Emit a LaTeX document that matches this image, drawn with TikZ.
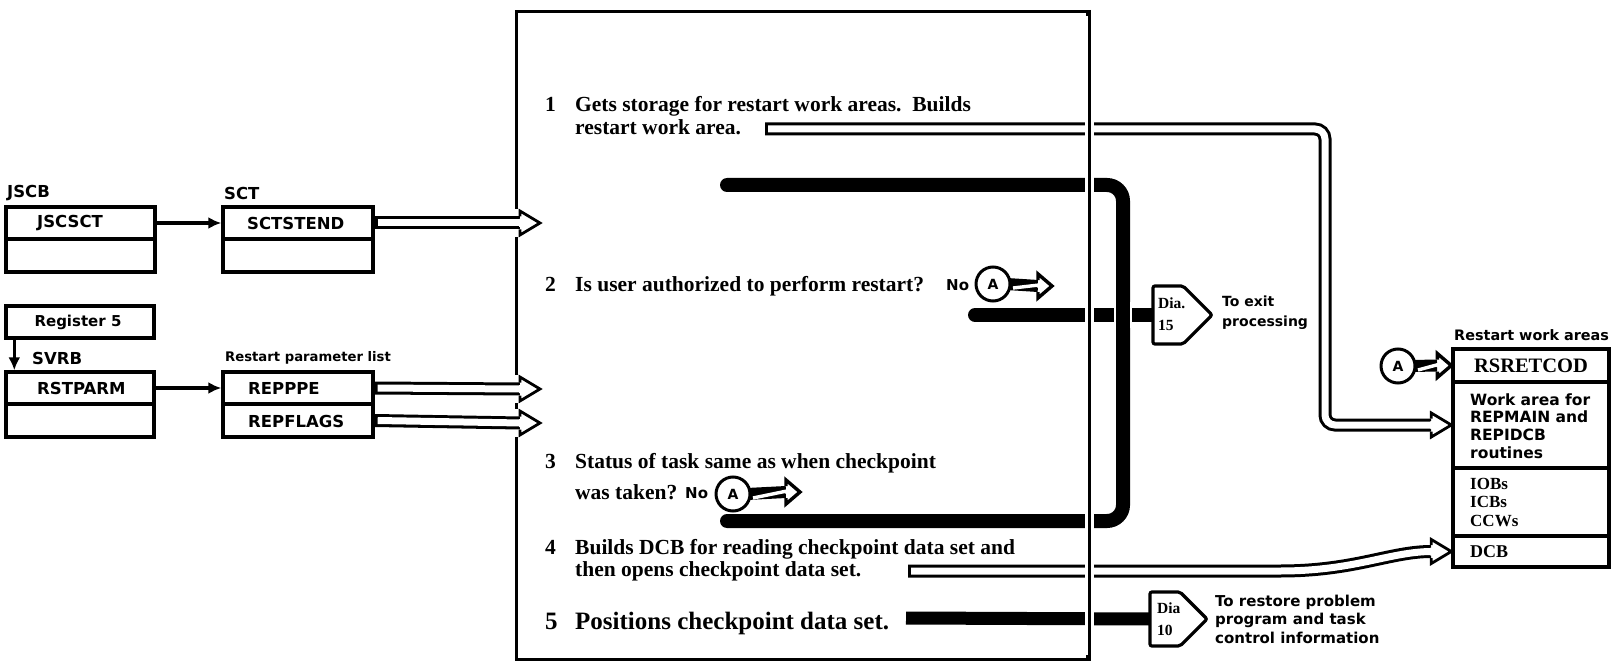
\documentclass[tikz,border=0pt]{standalone}
\usepackage{fontspec}
\setmainfont{Liberation Serif}
\newfontfamily\dvs{DejaVu Sans}
\usetikzlibrary{arrows.meta,calc}

\newcommand\fs[2]{\fontsize{#1}{#2}\selectfont}

\tikzset{
  frame/.style={draw, line width=3.4pt},
  cell/.style={draw, line width=3.4pt, inner sep=0pt, minimum width=149pt},
  lbl/.style={font=\dvs\bfseries\fs{16.5}{19}, inner sep=0pt},
  boxtxt/.style={font=\dvs\bfseries\fs{16.5}{19}, inner sep=0pt},
  steptxt/.style={font=\bfseries\fs{21.5}{23}, inner sep=0pt, anchor=base west},
  notxt/.style={font=\dvs\bfseries\fs{15}{15}, inner sep=0pt, anchor=base west},
  ptr/.style={line width=3.2pt, -{Latex[length=13pt,width=12pt]}},
  bar/.style={line width=14pt},
  acirc/.style={circle, draw, line width=3pt, fill=white, minimum size=34pt,
    inner sep=0pt, font=\dvs\bfseries\fs{14}{14}},
  dia/.style={draw, line width=3.2pt, fill=white, rounded corners=2pt},
  diatxt/.style={font=\bfseries\fs{15.5}{22}, inner sep=0pt, align=left, anchor=west},
  side/.style={font=\dvs\bfseries\fs{15}{18.5}, inner sep=0pt, align=left, anchor=west},
}

% head of a hollow (double-lined) arrow, tip at #1
\newcommand\hhead[1]{%
  \begin{scope}[shift={(#1)}]
    \fill[white] (-21,-4) -- (-20,-4) -- (-20,-12) -- (0,0) -- (-20,12) -- (-20,4) -- (-21,4) -- cycle;
    \draw[line width=2.8pt, line join=miter] (-20,-6.5) -- (-20,-12) -- (0,0) -- (-20,12) -- (-20,6.5);
  \end{scope}}

% straight hollow arrow from anchor #1 into the process box, tip at #2
\newcommand\inarrow[2]{%
  \fill[white] ($(#2)+(-28,-14)$) rectangle ($(#2)+(-18,14)$);
  \draw[line width=13pt] (#1) -- ($(#2)+(-20,0)$);
  \draw[line width=7pt, white] ($(#1)+(3,0)$) -- ($(#2)+(-19,0)$);
  \hhead{#2}}

% off-page connector circle "A" with its short slashed arrow
\newcommand\aconn[3]{%
  \draw[line width=12pt] ($(#2)+(14,0)$) -- ($(#3)+(-14,0)$);
  \draw[line width=3.4pt, white] ($(#2)+(20,4)$) -- ($(#3)+(-13,-1)$);
  \begin{scope}[shift={(#3)}]
    \fill[white] (-15,-1.5) -- (-14,-1.5) -- (-14,-12) -- (0,0) -- (-14,12) -- (-14,1.5) -- (-15,1.5) -- cycle;
    \draw[line width=3.4pt, line join=miter] (-14,-6) -- (-14,-12) -- (0,0) -- (-14,12) -- (-14,6);
  \end{scope}
  \node[acirc] (#1) at (#2) {A};}

\begin{document}
\begin{tikzpicture}[x=1pt, y=-1pt, line cap=butt]
\useasboundingbox (0,0) rectangle (1614,663);

% ---------------- input control blocks ----------------
\node[lbl, anchor=west] (jscbL) at (7,193) {JSCB};
\node[cell, minimum height=32pt] (jscsct) at (80.5,223) {};
\node[cell, minimum height=33pt] (jscb2) at (80.5,255.5) {};
\node[boxtxt, anchor=west] (t1) at (37,223) {JSCSCT};

\node[lbl, anchor=west] (sctL) at (224,193) {SCT};
\node[cell, minimum width=150pt, minimum height=32pt] (sctstend) at (298,223) {};
\node[cell, minimum width=150pt, minimum height=33pt] (sct2) at (298,255.5) {};
\node[boxtxt, anchor=west] (t2) at (247,223) {SCTSTEND};

\node[cell, minimum width=148pt, minimum height=32pt] (reg) at (80,322) {};
\node[boxtxt, font=\dvs\bfseries\fs{15}{17}] (t3) at (78,322) {Register 5};

\node[lbl, anchor=west] (svrbL) at (32,358) {SVRB};
\node[cell, minimum width=148pt, minimum height=32pt] (rstparm) at (80,388) {};
\node[cell, minimum width=148pt, minimum height=33pt] (svrb2) at (80,420.5) {};
\node[boxtxt, anchor=west] (t4) at (37,388) {RSTPARM};

\node[lbl, anchor=west, font=\dvs\bfseries\fs{13.2}{16}] (rplL) at (225,358) {Restart parameter list};
\node[cell, minimum width=150pt, minimum height=32pt] (repppe) at (298,388) {};
\node[cell, minimum width=150pt, minimum height=33pt] (repflags) at (298,420.5) {};
\node[boxtxt, anchor=west] (t5) at (248,388) {REPPPE};
\node[boxtxt, anchor=west] (t6) at (248,421) {REPFLAGS};

\draw[ptr] (jscsct.east) -- (sctstend.west);
\draw[ptr] (rstparm.east) -- (repppe.west);
\draw[ptr] ($(reg.south west)+(10,0)$) -- ($(rstparm.north west)+(10,0)$);

% ---------------- process box ----------------
\node[frame, anchor=north west, minimum width=571pt, minimum height=648pt, inner sep=0pt] (proc) at (515,10) {};

\coordinate (inA) at (540,223);
\coordinate (inB) at (540,389);
\coordinate (inC) at (540,423);
\inarrow{sctstend.east}{inA}
\inarrow{repppe.east}{inB}
\inarrow{repflags.east}{inC}

% step texts
\node[steptxt] (n1) at (545,112) {1};
\node[steptxt] (s1a) at (575,112) {Gets storage for restart work areas.\ \ Builds};
\node[steptxt] (s1b) at (575,135) {restart work area.};

\node[steptxt] (n2) at (545,291) {2};
\node[steptxt] (s2) at (575,291) {Is user authorized to perform restart?};
\node[notxt] (no2) at (946,290) {No};

\node[steptxt] (n3) at (545,468) {3};
\node[steptxt] (s3a) at (575,468) {Status of task same as when checkpoint};
\node[steptxt] (s3b) at (575,499) {was taken?};
\node[notxt] (no3) at (685,498) {No};

\node[steptxt] (n4) at (545,554) {4};
\node[steptxt] (s4a) at (575,554) {Builds DCB for reading checkpoint data set and};
\node[steptxt] (s4b) at (575,576) {then opens checkpoint data set.};

\node[steptxt, font=\bfseries\fs{25}{28}] (n5) at (545,629) {5};
\node[steptxt, font=\bfseries\fs{25}{28}] (s5) at (575,629) {Positions checkpoint data set.};

% ---------------- output work areas ----------------
\node[lbl, anchor=west, font=\dvs\bfseries\fs{14.4}{17}] (rwaL) at (1454,335) {Restart work areas};
\node[cell, minimum width=156pt, minimum height=33pt, font=\bfseries\fs{20.5}{22}] (rsretcod) at (1531,365.5) {RSRETCOD};
\node[cell, minimum width=156pt, minimum height=86pt] (work) at (1531,425) {};
\node[cell, minimum width=156pt, minimum height=68pt] (iobs) at (1531,502) {};
\node[cell, minimum width=156pt, minimum height=31pt] (dcb) at (1531,551.5) {};
\node[side, font=\dvs\bfseries\fs{15.5}{17.8}] (t7) at (1470,426) {Work area for\\REPMAIN and\\REPIDCB\\routines};
\node[side, font=\bfseries\fs{17}{18.5}] (t8) at (1470,502) {IOBs\\ICBs\\CCWs};
\node[side, font=\bfseries\fs{18}{20}] (t9) at (1470,552) {DCB};

% ---------------- step 1: hollow route to the work area ----------------
\draw[line width=13pt, rounded corners=10pt] (765,129) -- (1325,129) -- (1325,425) -- ($(work.west)+(-20,0)$);
\draw[line width=7pt, white, rounded corners=10pt] (768,129) -- (1325,129) -- (1325,425) -- ($(work.west)+(-19,0)$);
\hhead{work.west}

% ---------------- step 4: hollow route to the DCB ----------------
\draw[line width=13pt] (908,571) -- (1280,571) .. controls (1355,571) and (1390,551.5) .. ($(dcb.west)+(-20,0)$);
\draw[line width=7pt, white] (911,571) -- (1280,571) .. controls (1355,571) and (1390,551.5) .. ($(dcb.west)+(-19,0)$);
\hhead{dcb.west}

% ---------------- exits ----------------
\coordinate (dia15) at (1153,315);
\coordinate (dia10) at (1150,619);

\draw[bar, line cap=round, rounded corners=16pt] (727,185) -- (1123,185) -- (1123,521) -- (727,521);
\draw[bar, line cap=round] (975,315) -- (dia15);
\draw[white, line width=18pt] (1123,302) -- (1123,328);
\draw[bar] (1123,300) -- (1123,330);
\draw[line width=13pt] (906,618) -- (dia10);

\draw[dia] (1153,286) -- (1183,286) -- (1212,315) -- (1183,344) -- (1153,344) -- cycle;
\node[diatxt] (d15) at (1158,314) {Dia.\\15};
\node[side, font=\dvs\bfseries\fs{14}{20}] (exitT) at (1222,313) {To exit\\processing};

\draw[dia] (1150,592) -- (1180,592) -- (1207,619) -- (1180,646) -- (1150,646) -- cycle;
\node[diatxt] (d10) at (1157,619) {Dia\\10};
\node[side] (restT) at (1215,619) {To restore problem\\program and task\\control information};

% right edge of the process box passes over the crossing lines
\draw[white, line width=9pt] ($(proc.north east)+(0,6)$) -- ($(proc.south east)+(0,-6)$);
\draw[line width=3.4pt] (proc.north east) -- (proc.south east);

% ---------------- "A" connectors ----------------
\aconn{a2}{993,284}{1052,286}
\aconn{a3}{733,494}{800,492}
\aconn{a4}{1398,366}{rsretcod.west}

\end{tikzpicture}
\end{document}
